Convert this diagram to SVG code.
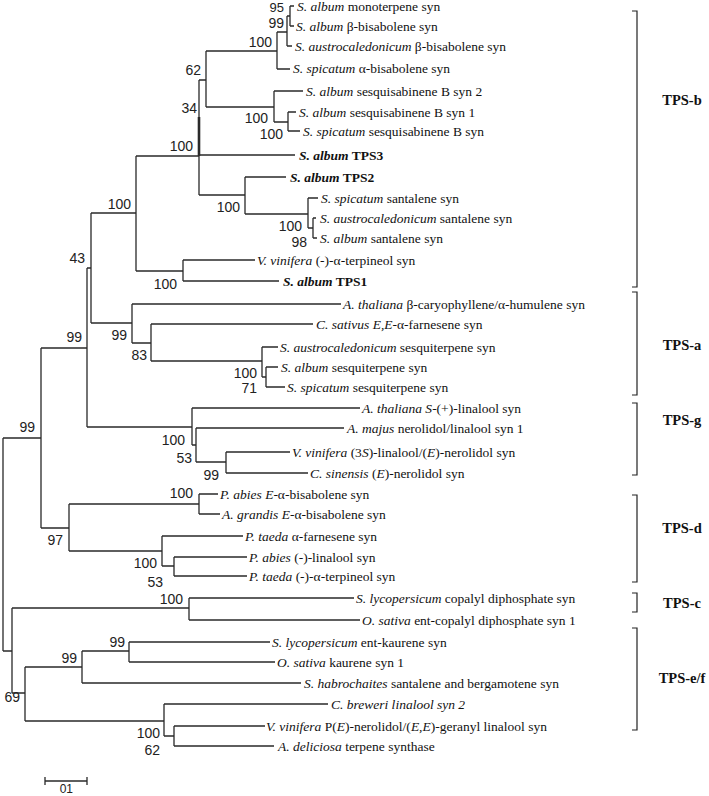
<svg xmlns="http://www.w3.org/2000/svg" width="709" height="796" viewBox="0 0 709 796">
<style>
.t{font-family:"Liberation Serif","Times New Roman",serif;font-size:13.5px;fill:#111}
.i{font-style:italic}
.b{font-weight:bold}
.bs{font-family:"Liberation Sans",Arial,sans-serif;font-size:14px;fill:#222;text-anchor:end}
.cl{font-family:"Liberation Serif","Times New Roman",serif;font-size:14.5px;font-weight:bold;fill:#111;text-anchor:middle}
.e{fill:none;stroke:#2a2a2a;stroke-width:1.3}
.br{fill:none;stroke:#222;stroke-width:1.2}
</style>
<rect width="709" height="796" fill="#fff"/>
<g id="connectors" class="e">
<path d="M3,438V651M3,438H41M3,651H12"/>
<path d="M41,348V528M41,348H87M41,528H69"/>
<path d="M87,268V427M87,268H91M87,427H192"/>
<path d="M91,213V323M91,213H136M91,323H132"/>
<path d="M136,156V271M136,156H199M136,271H183"/>
<path d="M199,80V195M199,195H245M199,155H295"/>
<path d="M199,117V156" stroke-width="2.6"/>
<path d="M199,80H206M206,51V107M206,51H277M206,107H274"/>
<path d="M277,32V69M277,32H287M277,69H290"/>
<path d="M287,16V46M287,16H290M287,46H292"/>
<path d="M290,6V26M290,6H294M290,26H294"/>
<path d="M274,91V122M274,91H303M274,122H288"/>
<path d="M288,112V131M288,112H296M288,131H300"/>
<path d="M245,177V214M245,177H286M245,214H308"/>
<path d="M308,198V228M308,198H318M308,228H313"/>
<path d="M313,218V238M313,218H316M313,238H317"/>
<path d="M183,260V281M183,260H255M183,281H279"/>
<path d="M132,304V343M132,304H341M132,343H151"/>
<path d="M151,324V361M151,324H313M151,361H262"/>
<path d="M262,347V377M262,347H278M262,377H266"/>
<path d="M266,367V387M266,367H278M266,387H285"/>
<path d="M192,408V445M192,408H360M192,445H196"/>
<path d="M196,428V462M196,428H344M196,462H226"/>
<path d="M226,452V473M226,452H290M226,473H308"/>
<path d="M69,504V551M69,504H199M69,551H162"/>
<path d="M199,494V514M199,494H218M199,514H220"/>
<path d="M162,536V566M162,536H243M162,566H174"/>
<path d="M174,557V576M174,557H247M174,576H247"/>
<path d="M12,608V693M12,608H189M12,693H25"/>
<path d="M189,598V620M189,598H354M189,620H360"/>
<path d="M25,667V721M25,667H82M25,721H164"/>
<path d="M82,651V683M82,651H129M82,683H301"/>
<path d="M129,642V662M129,642H270M129,662H275"/>
<path d="M164,704V736M164,704H328M164,736H174"/>
<path d="M174,726V746M174,726H265M174,746H274"/>
</g>
<g id="bootstrap">
<text class="bs" x="284" y="12" style="font-size:13px">95</text>
<text class="bs" x="284" y="28">99</text>
<text class="bs" x="272" y="47">100</text>
<text class="bs" x="201" y="75">62</text>
<text class="bs" x="197" y="113">34</text>
<text class="bs" x="193" y="151">100</text>
<text class="bs" x="268" y="123">100</text>
<text class="bs" x="283" y="139">100</text>
<text class="bs" x="240" y="212">100</text>
<text class="bs" x="302" y="231">100</text>
<text class="bs" x="307" y="247">98</text>
<text class="bs" x="131" y="209">100</text>
<text class="bs" x="177" y="289">100</text>
<text class="bs" x="85" y="263">43</text>
<text class="bs" x="127" y="340">99</text>
<text class="bs" x="147" y="360">83</text>
<text class="bs" x="82" y="342">99</text>
<text class="bs" x="35" y="432">99</text>
<text class="bs" x="257" y="378">100</text>
<text class="bs" x="257" y="393">71</text>
<text class="bs" x="185" y="445">100</text>
<text class="bs" x="192" y="463">53</text>
<text class="bs" x="219" y="480">99</text>
<text class="bs" x="193" y="498">100</text>
<text class="bs" x="63" y="545">97</text>
<text class="bs" x="157" y="568">100</text>
<text class="bs" x="163" y="587">53</text>
<text class="bs" x="183" y="604">100</text>
<text class="bs" x="125" y="647">99</text>
<text class="bs" x="77" y="663">99</text>
<text class="bs" x="20" y="702">69</text>
<text class="bs" x="160" y="738">100</text>
<text class="bs" x="160" y="755">62</text>
</g>
<g id="leaf1"><text class="t" x="297" y="11"><tspan class="i">S. album</tspan> monoterpene syn</text></g>
<g id="leaf2"><text class="t" x="296" y="31"><tspan class="i">S. album</tspan> β-bisabolene syn</text></g>
<g id="leaf3"><text class="t" x="295" y="51"><tspan class="i">S. austrocaledonicum</tspan> β-bisabolene syn</text></g>
<g id="leaf4"><text class="t" x="293" y="73"><tspan class="i">S. spicatum</tspan> α-bisabolene syn</text></g>
<g id="leaf5"><text class="t" x="306" y="96"><tspan class="i">S. album</tspan> sesquisabinene B syn 2</text></g>
<g id="leaf6"><text class="t" x="299" y="117"><tspan class="i">S. album</tspan> sesquisabinene B syn 1</text></g>
<g id="leaf7"><text class="t" x="303" y="136"><tspan class="i">S. spicatum</tspan> sesquisabinene B syn</text></g>
<g id="leaf8"><text class="t b" x="299" y="160"><tspan class="i">S. album</tspan> TPS3</text></g>
<g id="leaf9"><text class="t b" x="290" y="182"><tspan class="i">S. album</tspan> TPS2</text></g>
<g id="leaf10"><text class="t" x="321" y="203"><tspan class="i">S. spicatum</tspan> santalene syn</text></g>
<g id="leaf11"><text class="t" x="320" y="223"><tspan class="i">S. austrocaledonicum</tspan> santalene syn</text></g>
<g id="leaf12"><text class="t" x="320" y="243"><tspan class="i">S. album</tspan> santalene syn</text></g>
<g id="leaf13"><text class="t" x="257" y="265"><tspan class="i">V. vinifera</tspan> (-)-α-terpineol syn</text></g>
<g id="leaf14"><text class="t b" x="283" y="286"><tspan class="i">S. album</tspan> TPS1</text></g>
<g id="leaf15"><text class="t" x="343" y="309"><tspan class="i">A. thaliana</tspan> β-caryophyllene/α-humulene syn</text></g>
<g id="leaf16"><text class="t" x="316" y="329"><tspan class="i">C. sativus E,E</tspan>-α-farnesene syn</text></g>
<g id="leaf17"><text class="t" x="280" y="352"><tspan class="i">S. austrocaledonicum</tspan> sesquiterpene syn</text></g>
<g id="leaf18"><text class="t" x="281" y="372"><tspan class="i">S. album</tspan> sesquiterpene syn</text></g>
<g id="leaf19"><text class="t" x="287" y="392"><tspan class="i">S. spicatum</tspan> sesquiterpene syn</text></g>
<g id="leaf20"><text class="t" x="362" y="413"><tspan class="i">A. thaliana S</tspan>-(+)-linalool syn</text></g>
<g id="leaf21"><text class="t" x="347" y="433"><tspan class="i">A. majus</tspan> nerolidol/linalool syn 1</text></g>
<g id="leaf22"><text class="t" x="292" y="457"><tspan class="i">V. vinifera</tspan> (3<tspan class="i">S</tspan>)-linalool/(<tspan class="i">E</tspan>)-nerolidol syn</text></g>
<g id="leaf23"><text class="t" x="310" y="478"><tspan class="i">C. sinensis</tspan> (<tspan class="i">E</tspan>)-nerolidol syn</text></g>
<g id="leaf24"><text class="t" x="220" y="499"><tspan class="i">P. abies E</tspan>-α-bisabolene syn</text></g>
<g id="leaf25"><text class="t" x="222" y="519"><tspan class="i">A. grandis E</tspan>-α-bisabolene syn</text></g>
<g id="leaf26"><text class="t" x="245" y="541"><tspan class="i">P. taeda</tspan> α-farnesene syn</text></g>
<g id="leaf27"><text class="t" x="249" y="562"><tspan class="i">P. abies</tspan> (-)-linalool syn</text></g>
<g id="leaf28"><text class="t" x="249" y="581"><tspan class="i">P. taeda</tspan> (-)-α-terpineol syn</text></g>
<g id="leaf29"><text class="t" x="356" y="603"><tspan class="i">S. lycopersicum</tspan> copalyl diphosphate syn</text></g>
<g id="leaf30"><text class="t" x="362" y="625"><tspan class="i">O. sativa</tspan> ent-copalyl diphosphate syn 1</text></g>
<g id="leaf31"><text class="t" x="272" y="647"><tspan class="i">S. lycopersicum</tspan> ent-kaurene syn</text></g>
<g id="leaf32"><text class="t" x="277" y="667"><tspan class="i">O. sativa</tspan> kaurene syn 1</text></g>
<g id="leaf33"><text class="t" x="304" y="688"><tspan class="i">S. habrochaites</tspan> santalene and bergamotene syn</text></g>
<g id="leaf34"><text class="t i" x="331" y="709">C. breweri linalool syn 2</text></g>
<g id="leaf35"><text class="t" x="266" y="731"><tspan class="i">V. vinifera</tspan> P(<tspan class="i">E</tspan>)-nerolidol/(<tspan class="i">E,E</tspan>)-geranyl linalool syn</text></g>
<g id="leaf36"><text class="t" x="278" y="751"><tspan class="i">A. deliciosa</tspan> terpene synthase</text></g>
<g id="clade-TPS-b"><path class="br" d="M632,11H637V287H632"/><text class="cl" x="682" y="105">TPS-b</text></g>
<g id="clade-TPS-a"><path class="br" d="M632,292H637V395H632"/><text class="cl" x="682" y="350">TPS-a</text></g>
<g id="clade-TPS-g"><path class="br" d="M632,403H637V475H632"/><text class="cl" x="682" y="425">TPS-g</text></g>
<g id="clade-TPS-d"><path class="br" d="M632,495H637V582H632"/><text class="cl" x="682" y="533">TPS-d</text></g>
<g id="clade-TPS-c"><path class="br" d="M632,593H637V612H632"/><text class="cl" x="682" y="608">TPS-c</text></g>
<g id="clade-TPS-ef"><path class="br" d="M632,628H637V730H632"/><text class="cl" x="682" y="683">TPS-e/f</text></g>
<g id="scale"><path class="e" d="M45,781H87M45,777V785M87,777V785"/><text class="bs" x="73" y="793" style="font-size:12px">01</text></g>
</svg>
